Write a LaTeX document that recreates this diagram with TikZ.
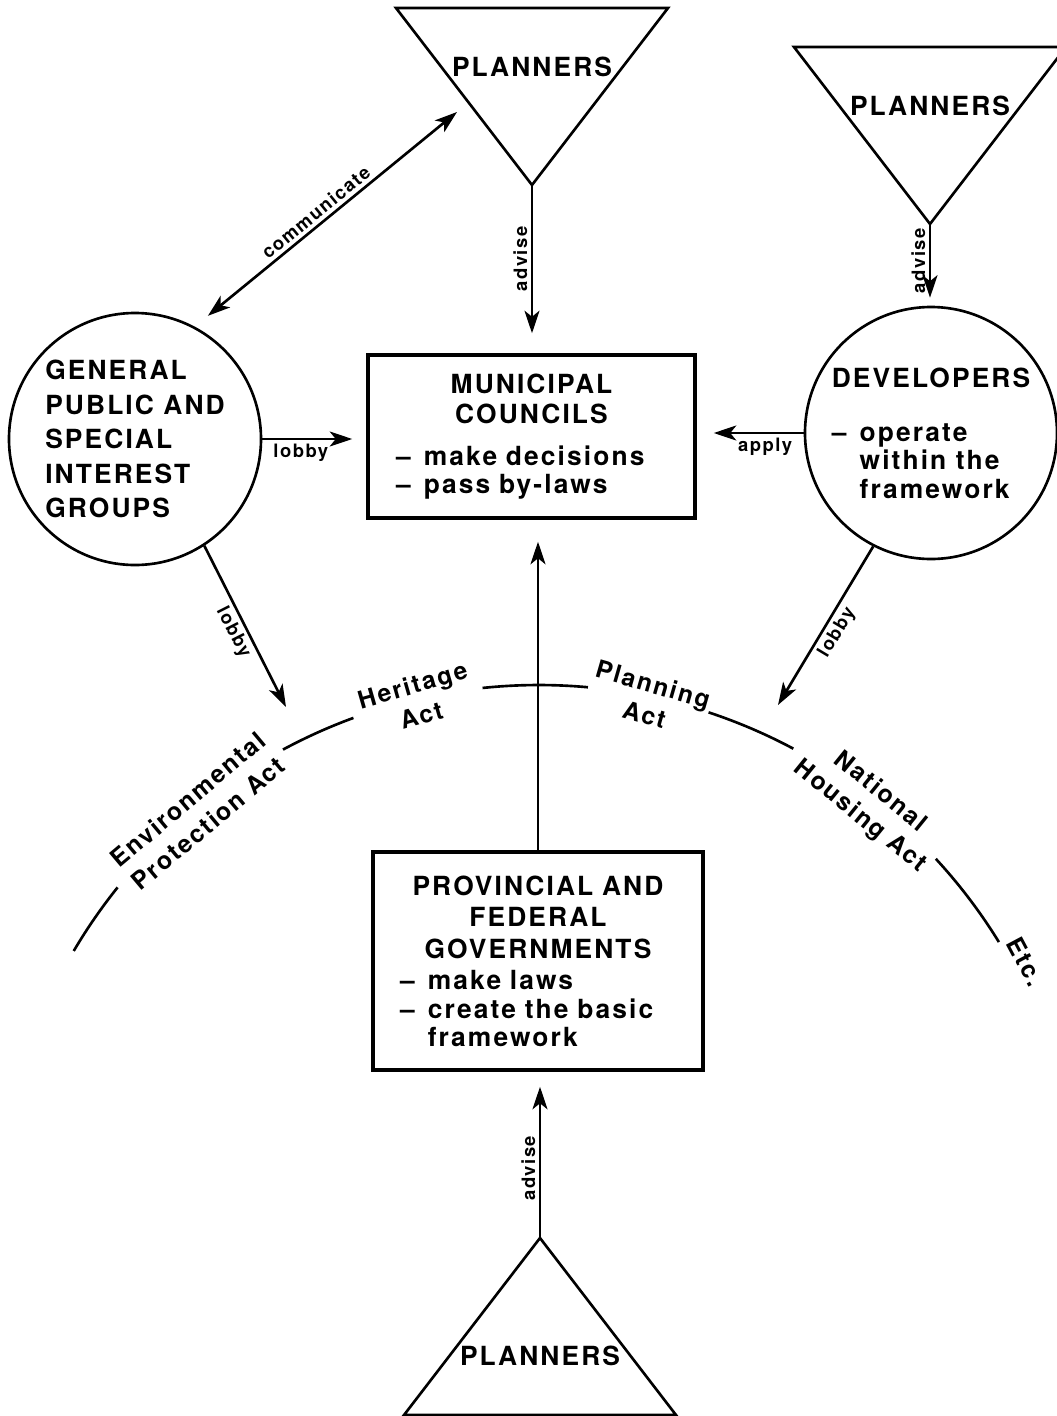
\documentclass[tikz,border=0pt]{standalone}
\usepackage{fontspec}
\setmainfont{TeX Gyre Heros}[LetterSpace=8]
\usetikzlibrary{arrows.meta}

\newcommand\boxfont{\fontsize{15}{16}\selectfont\bfseries}
\newcommand\labfont{\fontsize{10.5}{12}\selectfont\bfseries}
\newcommand\actfont{\fontsize{14}{18}\selectfont\bfseries}

\tikzset{
  >={Stealth[length=4.5mm,width=3mm,inset=1.2mm]},
  box/.style      = {draw, line width=2pt, font=\boxfont, inner xsep=5.6mm, inner ysep=0pt},
  blob/.style     = {draw, circle, line width=1.5pt, minimum size=50.4mm, inner sep=0pt},
  tag/.style      = {font=\boxfont, inner sep=1pt},
  tri/.style      = {line width=1.5pt, line join=miter},
  flow/.style     = {->, line width=1.5pt},
  lab/.style      = {font=\labfont, inner sep=2pt},
  actname/.style  = {font=\actfont, align=center, inner sep=0pt},
  actline/.style  = {line width=1.5pt},
}

\begin{document}
\begin{tikzpicture}[x=0.2mm,y=0.2mm]
  \useasboundingbox (0,0) rectangle (1057,-1416);

  % the two levels of government
  \node[box, text width=54.2mm, minimum height=32.6mm] (muni) at (531.5,-436.5)
    {\centering MUNICIPAL\\[1pt]COUNCILS\par\vspace{8pt}\raggedright
     --\enspace make decisions\\--\enspace pass by-laws\par};
  \node[box, inner xsep=5.4mm, text width=55.2mm, minimum height=43.6mm] (prov) at (538,-961)
    {\centering PROVINCIAL AND\\[2pt]FEDERAL\\[2pt]GOVERNMENTS\par\vspace{2pt}\raggedright
     --\enspace make laws\\--\enspace create the basic\\\hphantom{--\enspace}framework\par};

  % the actors
  \node[blob, align=left, font={\fontsize{15}{19.6}\selectfont\bfseries}] (gp) at (135,-439)
    {GENERAL\\PUBLIC AND\\SPECIAL\\INTEREST\\GROUPS};
  \node[blob, align=left, font=\boxfont] (dev) at (931,-433)
    {DEVELOPERS\\[15pt]--\enspace operate\\\hphantom{--\enspace}within the\\\hphantom{--\enspace}framework};

  % planners
  \node[tag] (planA) at (532,-67) {PLANNERS};
  \draw[tri] (planA) ++(-136,59) -- ++(272,0) -- ++(-136,-177) coordinate (tipA) -- cycle;
  \node[tag] (planB) at (930,-106) {PLANNERS};
  \draw[tri] (planB) ++(-136,59) -- ++(272,0) -- ++(-136,-177) coordinate (tipB) -- cycle;
  \node[tag] (planC) at (540,-1356) {PLANNERS};
  \draw[tri] (planC) ++(-136,-59) -- ++(272,0) -- ++(-136,177) coordinate (tipC) -- cycle;

  % legislation
  \coordinate (hub) at (539,-1225);
  \foreach \from/\to in {149.5/141.3, 118.3/110.1, 96/84.8, 71.7/61.9, 42.7/31.6}
    \draw[actline] (hub) ++(\from:540) arc[start angle=\from, end angle=\to, radius=540];
  \node[actname, rotate=40]  (envAct)  at ([shift={(129.5:536)}]hub) {Environmental\\Protection Act};
  \node[actname, rotate=16]  (herAct)  at ([shift={(103.1:539)}]hub) {Heritage\\Act};
  \node[actname, rotate=-16] (planAct) at ([shift={(78.2:537)}]hub) {Planning\\Act};
  \node[actname, rotate=-39] (nhAct)   at ([shift={(51.8:535)}]hub) {National\\Housing Act};
  \node[actname, rotate=-62] (etc)     at ([shift={(28.4:553)}]hub) {Etc.};

  % influences
  \draw[flow, shorten >=4mm] (tipA) -- (tipA |- muni.north)
    node[lab, pos=.44, rotate=90, anchor=south] {advise};
  \draw[flow, shorten >=1.6mm] (tipB) -- (tipB |- dev.north)
    node[lab, pos=.45, rotate=90, anchor=south] {advise};
  \draw[flow, shorten >=3mm] (tipC) -- (tipC |- prov.south)
    node[lab, pos=.42, rotate=90, anchor=south] {advise};
  \draw[flow, shorten >=4.4mm] (prov.north) -- (prov.north |- muni.south);
  \draw[flow, shorten >=2.8mm] (gp.east) -- (gp.east -| muni.west)
    node[lab, pos=.37, below] {lobby};
  \draw[flow, shorten >=3.4mm] (dev.west) -- (dev.west -| muni.east)
    node[lab, pos=.36, below] {apply};

  \coordinate (talk) at (457,-112);
  \draw[<->, line width=1.5pt, shorten <=3.4mm] (gp.62) -- (talk)
    node[lab, pos=.49, above, sloped] {communicate};

  \coordinate (envTip) at (286,-707);
  \coordinate (nhaTip) at (778,-705);
  \draw[flow] (gp.-57) -- (envTip) node[lab, pos=.5, below, sloped] {lobby};
  \draw[flow] (dev.-117) -- (nhaTip) node[lab, pos=.5, below, sloped] {lobby};
\end{tikzpicture}
\end{document}
